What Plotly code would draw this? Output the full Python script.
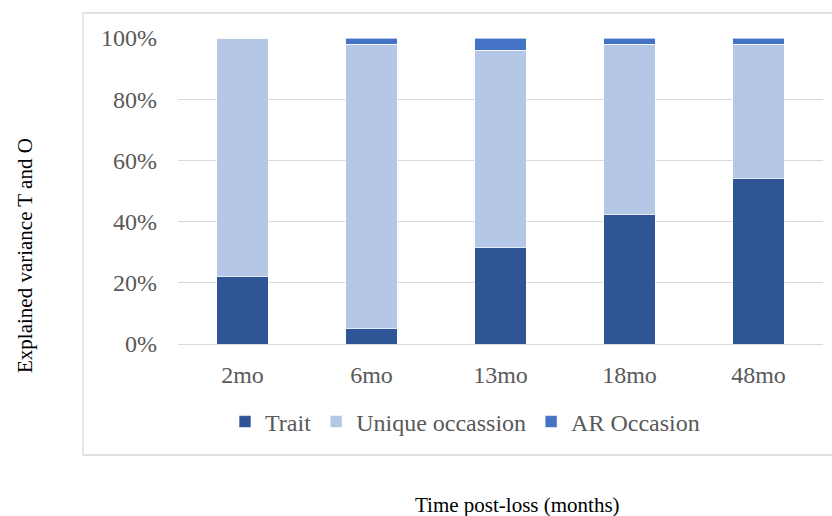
import plotly.graph_objects as go

categories = ["2mo", "6mo", "13mo", "18mo", "48mo"]
trait = [22.0, 5.0, 31.5, 42.2, 54.0]
unique_occ = [78.0, 93.0, 64.5, 55.8, 44.0]
ar_occ = [0.0, 2.0, 4.0, 2.0, 2.0]
series_names = ["Trait", "Unique occassion", "AR Occasion"]
colors = ["#2F5597", "#B4C7E7", "#4472C4"]

W, H = 832, 516
FONT = "Liberation Serif"
PL, PR, PT, PB = 178, 823, 38, 344  # plot area in pixels
pw, ph = PR - PL, PB - PT


def px_x(x):
    return (x - PL) / pw


def px_y(y):
    return (PB - y) / ph


fig = go.Figure()
for name, vals, col in zip(series_names, [trait, unique_occ, ar_occ], colors):
    fig.add_trace(go.Bar(
        x=categories, y=vals, name=name,
        marker=dict(color=col, line=dict(color="white", width=0.6)),
    ))

fig.update_layout(
    width=W, height=H,
    barmode="stack", bargap=0.6,
    plot_bgcolor="white", paper_bgcolor="white",
    margin=dict(l=PL, r=W - PR, t=PT, b=H - PB, autoexpand=False),
    font=dict(family=FONT, size=24, color="#595959"),
    showlegend=True,
    legend=dict(
        orientation="h", x=px_x(465), xanchor="center",
        y=px_y(422), yanchor="middle",
        bgcolor="rgba(0,0,0,0)",
        font=dict(family=FONT, size=24, color="#595959"),
        itemwidth=30, traceorder="normal",
    ),
    xaxis=dict(
        showgrid=False, showline=False, zeroline=False,
        ticks="", ticklabelstandoff=14,
        tickfont=dict(family=FONT, size=24, color="#595959"),
    ),
    yaxis=dict(
        range=[0, 100], tickvals=[0, 20, 40, 60, 80, 100],
        ticktext=["0%", "20%", "40%", "60%", "80%", "100%"],
        showgrid=True, gridcolor="#D9D9D9", gridwidth=1.3,
        zeroline=True, zerolinecolor="#D9D9D9", zerolinewidth=1.3,
        showline=False, ticks="", ticklabelstandoff=20,
        tickfont=dict(family=FONT, size=24, color="#595959"),
    ),
)

# chart-area border
fig.add_shape(type="rect", xref="paper", yref="paper",
              x0=px_x(83), x1=px_x(900),
              y0=px_y(455), y1=px_y(13),
              line=dict(color="#D9D9D9", width=1.3), fillcolor="rgba(0,0,0,0)",
              layer="below")

fig.add_annotation(text="Explained variance T and O", xref="paper", yref="paper",
                   x=px_x(25), y=px_y(256),
                   xanchor="center", yanchor="middle", textangle=-90, showarrow=False,
                   font=dict(family=FONT, size=21, color="black"))
fig.add_annotation(text="Time post-loss (months)", xref="paper", yref="paper",
                   x=px_x(517), y=px_y(505),
                   xanchor="center", yanchor="middle", showarrow=False,
                   font=dict(family=FONT, size=21, color="black"))

fig.write_html("out.html", config={"displayModeBar": False},
               post_script="document.body.style.margin='0';document.body.style.overflow='hidden';")
